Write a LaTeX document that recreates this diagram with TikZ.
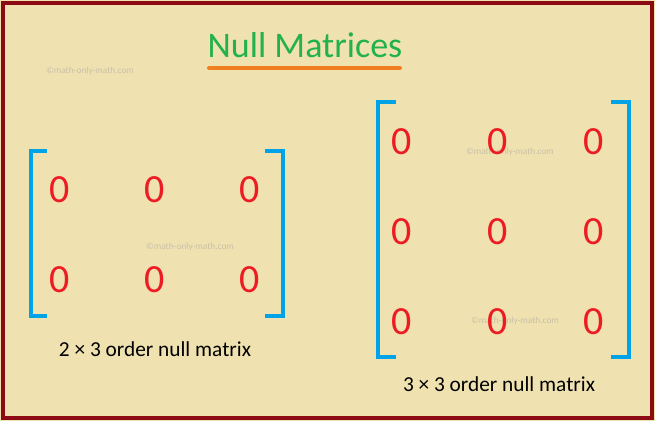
\documentclass[tikz,border=0pt]{standalone}
\usepackage{fontspec}
\setmainfont{Carlito}
\definecolor{bg}{HTML}{F0E2B0}
\definecolor{frame}{HTML}{8B0A14}
\definecolor{ttl}{HTML}{22B14C}
\definecolor{orng}{HTML}{F07F20}
\definecolor{brk}{HTML}{00A2E8}
\definecolor{zr}{HTML}{ED1C24}
\definecolor{wm}{HTML}{C8C0A8}
\begin{document}
\begin{tikzpicture}[x=0.75pt,y=-0.75pt,
  zero/.style={text=zr,font=\fontsize{30}{32}\selectfont,inner sep=0},
  brkt/.style={draw=brk,line width=3.2pt},
  lbl/.style={font=\fontsize{16}{18}\selectfont,inner sep=0},
  wmk/.style={text=wm,font=\fontsize{7}{8}\selectfont,inner sep=0}]
\useasboundingbox (0,0) rectangle (655,421);
\fill[bg] (0,0) rectangle (655,421);
\draw[frame,line width=3.5pt] (3,3) rectangle (652,418);
\node[text=ttl,font=\fontsize{27}{30}\selectfont,inner sep=0] (title) at (305,45) {Null Matrices};
\draw[orng,line width=3pt,line cap=round] (209,68) -- (400,68);
\foreach \n/\t in {w1/{(90,71)},w2/{(190,247)},w3/{(510,152)},w4/{(515,321)}}
  \node[wmk] (\n) at \t {©math-only-math.com};
% left matrix
\draw[brkt] (47,151) -- (31,151) -- (31,316) -- (47,316);
\draw[brkt] (265,151) -- (283,151) -- (283,316) -- (265,316);
\foreach \i/\x in {1/60,2/155,3/250}{
  \node[zero] (a1\i) at (\x,190) {0};
  \node[zero] (a2\i) at (\x,280) {0};}
\node[lbl] (l1) at (155,349) {2 × 3 order null matrix};
% right matrix
\draw[brkt] (396,102) -- (378,102) -- (378,357) -- (396,357);
\draw[brkt] (611,102) -- (629,102) -- (629,357) -- (611,357);
\foreach \i/\x in {1/402,2/498,3/594}{
  \node[zero] (b1\i) at (\x,142) {0};
  \node[zero] (b2\i) at (\x,232) {0};
  \node[zero] (b3\i) at (\x,322) {0};}
\node[lbl] (l2) at (499,384) {3 × 3 order null matrix};
\end{tikzpicture}
\end{document}
